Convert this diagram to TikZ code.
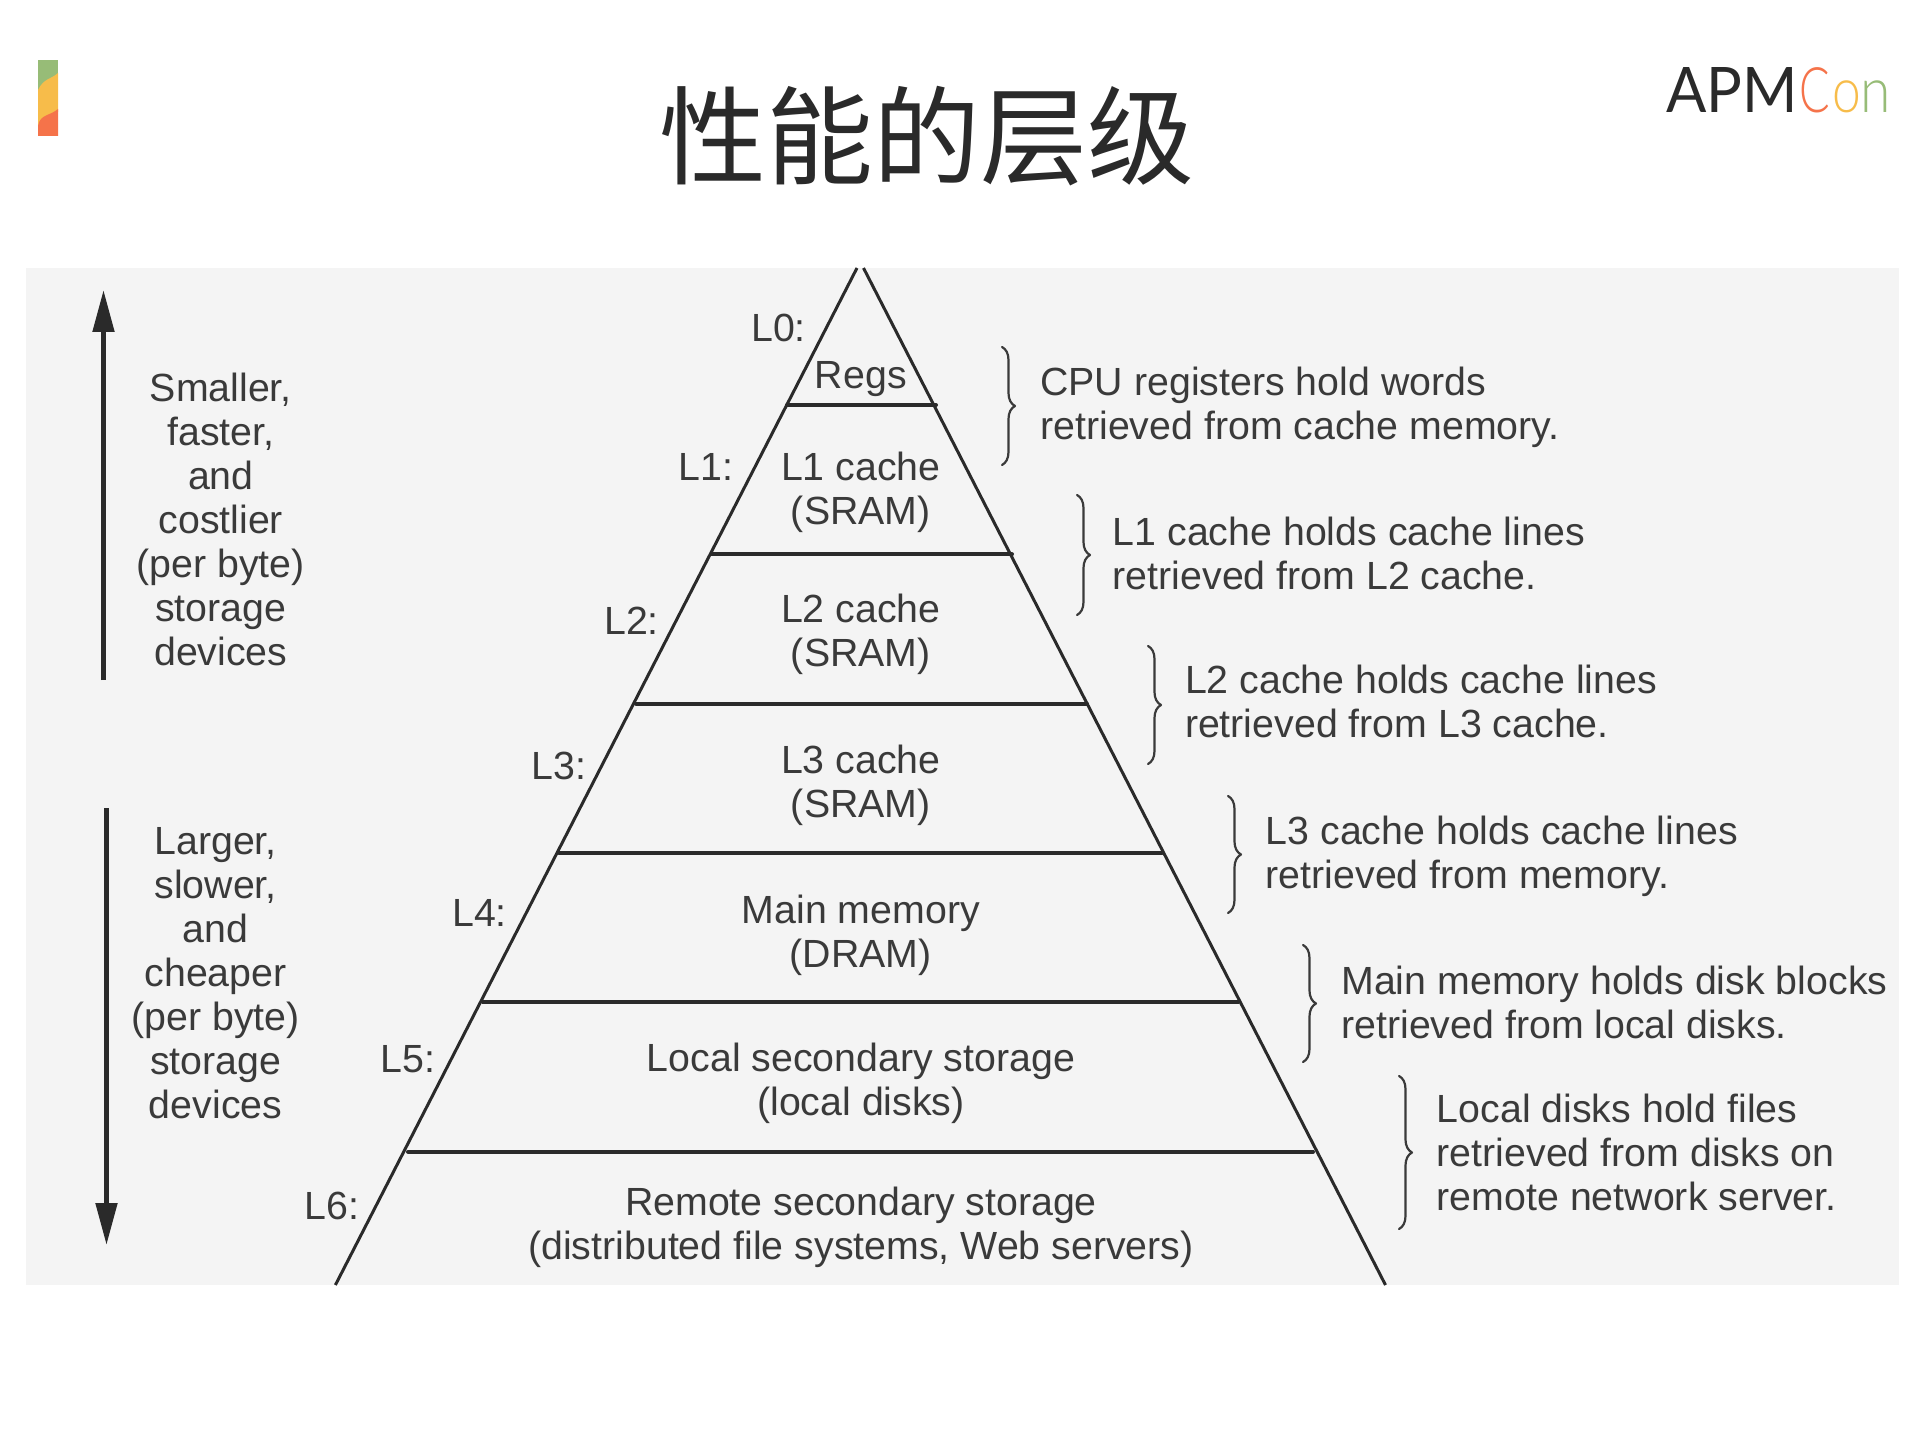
\documentclass[tikz,border=0pt]{standalone}
\usepackage{fontspec}
\usetikzlibrary{arrows.meta,decorations.pathreplacing}
\setmainfont{Liberation Sans}
\newfontfamily\cjk{Noto Sans CJK SC}
\newfontfamily\logofont{Lato}
\newfontfamily\logothin{Lato Light}
\definecolor{panelgray}{HTML}{F4F4F4}
\definecolor{inkdark}{HTML}{2A2A2A}
\definecolor{inktext}{HTML}{3A3A3A}
\definecolor{bargreen}{HTML}{97BC77}
\definecolor{baryellow}{HTML}{F7BC4A}
\definecolor{barred}{HTML}{F5734A}
\begin{document}
\begin{tikzpicture}[line cap=round,line join=round,x=0.5pt,y=-0.5pt,
  lbl/.style={text=inktext,inner sep=0pt,align=center,font=\fontsize{19.65}{22}\selectfont},
  desc/.style={lbl,anchor=west,align=left},
  logoletter/.style={inner sep=0pt,anchor=base west,font=\logothin\fontsize{31.4}{34}\selectfont},
  level/.style={draw=inkdark,line width=2pt},
  side/.style={draw=inkdark,line width=1.5pt,line cap=butt},
  span/.style={draw=inkdark,line width=2.5pt,line cap=butt,-{Triangle[width=10.5pt,length=21pt]}},
  bracket/.style={draw=inktext,line width=1.1pt,decorate,decoration={brace,amplitude=6.5pt}}]
\useasboundingbox (0,0) rectangle (1919,1439);
% colour bar
\fill[bargreen] (38,60) rectangle (58,92);
\fill[baryellow] (38,90) .. controls (44,78) and (50,80) .. (58,73) -- (58,112) -- (38,128) -- cycle;
\fill[barred] (38,126) .. controls (40,114) and (50,116) .. (58,109) -- (58,136) -- (38,136) -- cycle;
% title and logo
\node[text=inkdark,inner sep=0pt,font=\cjk\fontsize{53.5}{60}\selectfont] (title) at (926.5,136) {性能的层级};
\node[text=inkdark,inner sep=0pt,anchor=base west,xscale=0.95,font=\logofont\fontsize{31.4}{34}\selectfont] (apm) at (1666,112.3) {APM};
\node[logoletter,text=barred,xscale=0.72] (logoc) at (1799,112.3) {C};
\node[logoletter,text=baryellow,xscale=0.82] (logoo) at (1832,112.3) {o};
\node[logoletter,text=bargreen,xscale=0.88] (logon) at (1860,112.3) {n};
% panel
\fill[panelgray] (26,268) rectangle (1899,1285);
% pyramid
\draw[side] (857,268)-- (335.4,1285);
\draw[side] (863.5,268)-- (1385.5,1285);
\draw[level] (787,405)-- (936,405);
\draw[level] (712,554.4)-- (1012,554.4);
\draw[level] (636,703.7)-- (1087,703.7);
\draw[level] (559,853)-- (1162,853);
\draw[level] (483,1002.4)-- (1238,1002.4);
\draw[level] (408,1151.7)-- (1313,1151.7);
% pyramid texts
\node[lbl] (regs) at (860.8,379.4) {Regs};
\node[lbl] (lonecache) at (860.8,492.4) {L1 cache\\(SRAM)};
\node[lbl] (ltwocache) at (860.8,634.4) {L2 cache\\(SRAM)};
\node[lbl] (lthreecache) at (860.8,785.4) {L3 cache\\(SRAM)};
\node[lbl] (mainmem) at (860.8,935.4) {Main memory\\(DRAM)};
\node[lbl] (localdisk) at (861,1083) {Local secondary storage\\(local disks)};
\node[lbl] (remotedisk) at (861,1227.5) {Remote secondary storage\\(distributed file systems, Web servers)};
% level names
\node[lbl] (lzero) at (778.6,328) {L0:};
\node[lbl] (lone) at (706,467) {L1:};
\node[lbl] (ltwo) at (631.5,620.5) {L2:};
\node[lbl] (lthree) at (559,765.5) {L3:};
\node[lbl] (lfour) at (479.5,913) {L4:};
\node[lbl] (lfive) at (408,1059) {L5:};
\node[lbl] (lsix) at (331.7,1205.5) {L6:};
% arrows on the left
\coordinate (upfoot) at (103.5,680);
\coordinate (uphead) at (103.5,290);
\coordinate (downfoot) at (106.5,808);
\coordinate (downhead) at (106.5,1245);
\draw[span] (upfoot)-- (uphead);
\draw[span] (downfoot)-- (downhead);
\node[lbl] (smaller) at (220.8,519) {Smaller,\\faster,\\and\\costlier\\(per byte)\\storage\\devices};
\node[lbl] (larger) at (215.6,973.6) {Larger,\\slower,\\and\\cheaper\\(per byte)\\storage\\devices};
% braces
\draw[bracket] (1002,347)-- (1002,465);
\draw[bracket] (1077,495)-- (1077,615);
\draw[bracket] (1148,646)-- (1148,764);
\draw[bracket] (1228,796)-- (1228,913);
\draw[bracket] (1303,945)-- (1303,1062);
\draw[bracket] (1399,1076)-- (1399,1229);
% descriptions
\node[desc] (cpudesc) at (1040,407.2) {CPU registers hold words\\retrieved from cache memory.};
\node[desc] (lonedesc) at (1112.5,553) {L1 cache holds cache lines\\retrieved from L2 cache.};
\node[desc] (ltwodesc) at (1184.6,701) {L2 cache holds cache lines\\retrieved from L3 cache.};
\node[desc] (lthreedesc) at (1265.5,856.2) {L3 cache holds cache lines\\retrieved from memory.};
\node[desc] (maindesc) at (1341,1002) {Main memory holds disk blocks\\retrieved from local disks.};
\node[desc] (localdesc) at (1436.5,1152) {Local disks hold files\\retrieved from disks on\\remote network server.};
\end{tikzpicture}
\end{document}
